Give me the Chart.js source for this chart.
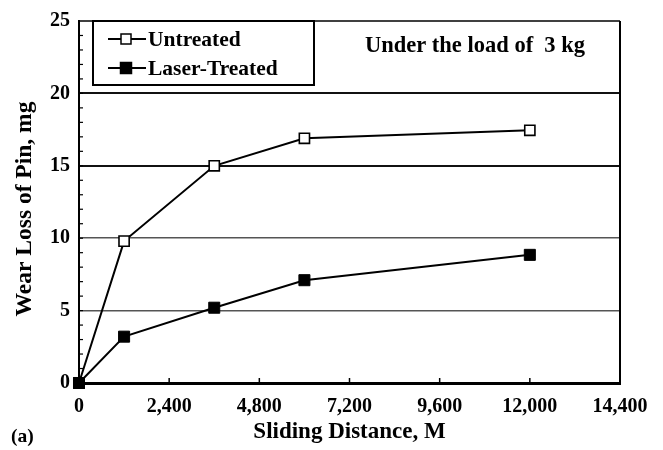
<!DOCTYPE html>
<html><head><meta charset="utf-8">
<script src="https://cdn.jsdelivr.net/npm/chart.js@4.4.0/dist/chart.umd.min.js"></script>
<style>html,body{margin:0;padding:0;background:#fff;}</style>
</head><body>
<canvas id="c" width="663" height="450" style="width:663px;height:450px;display:block"></canvas>
<script>
const distances = [0, 1200, 3600, 6000, 12000];
const untreated = [0, 9.8, 15.0, 16.9, 17.45];
const laserTreated = [0, 3.2, 5.2, 7.1, 8.85];
const xTicks = [0, 2400, 4800, 7200, 9600, 12000, 14400];
const yTicks = [0, 5, 10, 15, 20, 25];
const seriesNames = ['Untreated', 'Laser-Treated'];
const annotationText = 'Under the load of  3 kg';
const xTitle = 'Sliding Distance, M';
const yTitle = 'Wear Loss of Pin, mg';
const panelLabel = '(a)';

const FONT = "'Liberation Serif', 'Times New Roman', serif";

const toPts = (vals) => distances.map((d, i) => ({x: d, y: vals[i]}));

const decor = {
  id: 'decor',
  afterDraw(chart) {
    const ctx = chart.ctx;
    const a = chart.chartArea;
    const xs = chart.scales.x, ys = chart.scales.y;
    ctx.save();
    ctx.strokeStyle = '#000';
    // top & right frame
    ctx.lineWidth = 1.5;
    ctx.beginPath(); ctx.moveTo(a.left, a.top); ctx.lineTo(a.right, a.top); ctx.stroke();
    ctx.lineWidth = 2;
    ctx.beginPath(); ctx.moveTo(a.right, a.top); ctx.lineTo(a.right, a.bottom); ctx.stroke();
    // minor y ticks (inside)
    ctx.lineWidth = 1.2;
    for (let v = 1; v < 25; v++) {
      const y = ys.getPixelForValue(v);
      ctx.beginPath(); ctx.moveTo(a.left, y); ctx.lineTo(a.left + 4, y); ctx.stroke();
    }
    // x ticks (inside)
    ctx.lineWidth = 1.5;
    xTicks.slice(1, -1).forEach(v => {
      const x = xs.getPixelForValue(v);
      ctx.beginPath(); ctx.moveTo(x, a.bottom); ctx.lineTo(x, a.bottom - 5); ctx.stroke();
    });
    // legend box
    ctx.fillStyle = '#fff';
    ctx.fillRect(a.left + 14, a.top, 221, 64);
    ctx.lineWidth = 2;
    ctx.strokeRect(a.left + 14, a.top, 221, 64);
    const rows = [{y: a.top + 18, ds: 1}, {y: a.top + 47, ds: 0}];
    rows.forEach(r => {
      const ds = chart.data.datasets[r.ds];
      ctx.lineWidth = 2; ctx.strokeStyle = '#000';
      ctx.beginPath(); ctx.moveTo(a.left + 29, r.y); ctx.lineTo(a.left + 67, r.y); ctx.stroke();
      const s = r.ds === 1 ? 10 : 11;
      ctx.fillStyle = ds.pointBackgroundColor;
      ctx.fillRect(a.left + 47 - s/2, r.y - s/2, s, s);
      ctx.lineWidth = 1.5;
      ctx.strokeRect(a.left + 47 - s/2, r.y - s/2, s, s);
      ctx.fillStyle = '#000';
      ctx.font = "bold 21.5px " + FONT;
      ctx.textAlign = 'left'; ctx.textBaseline = 'middle';
      ctx.fillText(ds.label, a.left + 69, r.y + 1);
    });
    // annotation
    ctx.font = "bold 22.5px " + FONT;
    ctx.textAlign = 'center'; ctx.textBaseline = 'middle';
    ctx.fillText(annotationText, 475, a.top + 25);
    // y title
    ctx.save();
    ctx.translate(25, 209);
    ctx.rotate(-Math.PI / 2);
    ctx.font = "bold 23.5px " + FONT;
    ctx.textAlign = 'center'; ctx.textBaseline = 'middle';
    ctx.fillText(yTitle, 0, 0);
    ctx.restore();
    // panel label
    ctx.font = "bold 19.5px " + FONT;
    ctx.textAlign = 'left'; ctx.textBaseline = 'middle';
    ctx.fillText(panelLabel, 11, 437);
    ctx.restore();
  }
};

new Chart(document.getElementById('c'), {
  type: 'line',
  data: {
    datasets: [
      {
        label: seriesNames[1], data: toPts(laserTreated), order: 0,
        borderColor: '#000', borderWidth: 2, pointStyle: 'rect', pointRadius: 7.8,
        pointBackgroundColor: '#000', pointBorderColor: '#000', pointBorderWidth: 1,
        clip: false, tension: 0
      },
      {
        label: seriesNames[0], data: toPts(untreated), order: 1,
        borderColor: '#000', borderWidth: 2, pointStyle: 'rect', pointRadius: 7.2,
        pointBackgroundColor: '#fff', pointBorderColor: '#000', pointBorderWidth: 1.6,
        clip: false, tension: 0
      }
    ]
  },
  options: {
    responsive: false, animation: false, devicePixelRatio: 1,
    layout: {padding: {left: 0, right: 43, top: 15, bottom: 0}},
    plugins: {legend: {display: false}, tooltip: {enabled: false}},
    scales: {
      x: {
        type: 'linear', min: 0, max: 14400,
        afterBuildTicks: (s) => { s.ticks = xTicks.map(v => ({value: v})); },
        afterFit: (s) => { s.height = 67; },
        grid: {display: false, drawTicks: false},
        border: {display: true, color: '#000', width: 3},
        ticks: {color: '#000', padding: 12, maxRotation: 0, autoSkip: false,
          font: {family: FONT, size: 20, weight: 'bold'},
          callback: (v) => Number(v).toLocaleString('en-US')},
        title: {display: true, text: xTitle, color: '#000', padding: {top: 0, bottom: 4},
          font: {family: FONT, size: 23, weight: 'bold'}}
      },
      y: {
        type: 'linear', min: 0, max: 25,
        afterBuildTicks: (s) => { s.ticks = yTicks.map(v => ({value: v})); },
        afterFit: (s) => { s.width = 79; },
        grid: {drawTicks: false,
          color: (c) => { const v = c.tick && c.tick.value; return (v === 0 || v === 25) ? 'rgba(0,0,0,0)' : (v >= 15 ? '#111' : '#555'); },
          lineWidth: (c) => { const v = c.tick && c.tick.value; return v >= 15 ? 2 : 1.5; }},
        border: {display: true, color: '#000', width: 2},
        ticks: {color: '#000', padding: 9,
          font: {family: FONT, size: 20, weight: 'bold'}}
      }
    }
  },
  plugins: [decor]
});
</script>
</body></html>
